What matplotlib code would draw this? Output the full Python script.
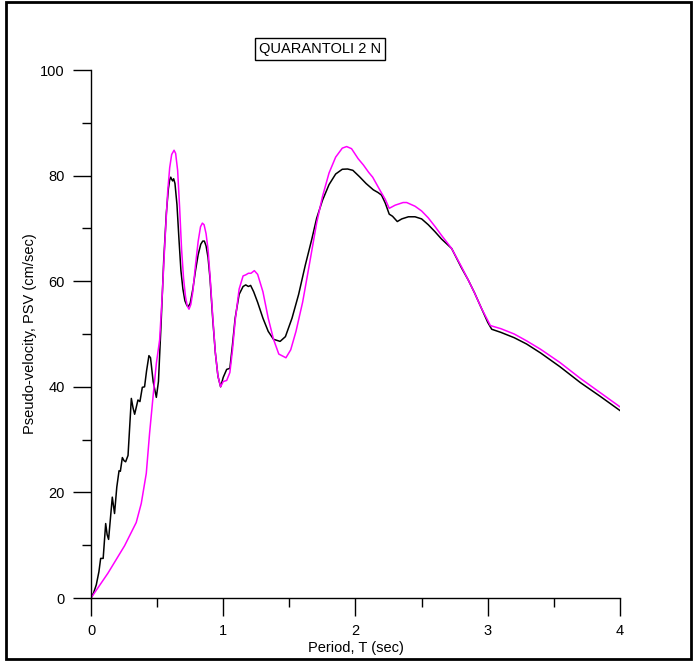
import matplotlib
matplotlib.use("Agg")
import matplotlib.pyplot as plt
from matplotlib.patches import Rectangle
from matplotlib.ticker import MultipleLocator

plt.rcParams['font.family'] = ['Liberation Sans', 'DejaVu Sans']

title_text = "QUARANTOLI 2 N"
x_label = "Period, T (sec)"
y_label = "Pseudo-velocity, PSV (cm/sec)"

# Black series (period, PSV)
black_T = [0.0, 0.02, 0.04, 0.06, 0.073, 0.092, 0.111, 0.122, 0.133, 0.161, 0.178, 0.195,
           0.212, 0.222, 0.237, 0.25, 0.262, 0.28, 0.305, 0.318, 0.33, 0.355, 0.37, 0.388,
           0.405, 0.42, 0.438, 0.45, 0.47, 0.494, 0.51, 0.53, 0.55, 0.57, 0.585, 0.595,
           0.603, 0.61, 0.617, 0.625, 0.635, 0.65, 0.665, 0.68, 0.695, 0.71, 0.725,
           0.736, 0.75, 0.77, 0.79, 0.81, 0.83, 0.845, 0.857, 0.87, 0.885,
           0.90, 0.92, 0.94, 0.96, 0.98, 1.0, 1.026, 1.05, 1.07, 1.09, 1.12, 1.15, 1.17,
           1.19, 1.207, 1.23, 1.26, 1.30, 1.34, 1.38, 1.43, 1.47, 1.52, 1.57, 1.62, 1.67,
           1.706, 1.75, 1.80, 1.85, 1.90, 1.94, 1.98, 2.03, 2.08, 2.135, 2.17, 2.197,
           2.225, 2.255, 2.28, 2.316, 2.35, 2.40, 2.45, 2.50, 2.55, 2.60, 2.65, 2.727,
           2.80, 2.853, 2.90, 2.95, 3.0, 3.03, 3.10, 3.20, 3.294, 3.40, 3.546, 3.70,
           3.85, 4.0]
black_psv = [0, 1.0, 2.5, 5.0, 7.5, 7.5, 14.1, 12.0, 11.1, 19.1, 16.0, 21.0,
             24.1, 24.0, 26.6, 26.0, 25.8, 27.0, 37.8, 36.0, 34.8, 37.5, 37.2, 39.9,
             40.0, 43.0, 45.9, 45.5, 41.0, 38.0, 41.0, 52.0, 64.0, 73.0, 77.5, 79.2,
             79.7, 79.3, 79.0, 79.4, 78.5, 74.5, 68.0, 62.0, 58.5, 56.3, 55.4,
             55.2, 55.8, 58.5, 62.0, 65.0, 67.0, 67.6, 67.6, 66.7, 64.5,
             60.5, 53.0, 46.5, 42.0, 40.0, 41.8, 43.3, 43.5, 48.0, 53.0, 57.5, 59.0, 59.3,
             59.0, 59.2, 58.0, 56.0, 53.0, 50.5, 49.0, 48.6, 49.5, 53.0, 57.5, 63.0, 68.0,
             71.9, 75.3, 78.3, 80.3, 81.2, 81.25, 81.0, 79.8, 78.5, 77.3, 76.8, 76.3,
             74.8, 72.7, 72.3, 71.3, 71.8, 72.2, 72.2, 71.8, 70.7, 69.4, 68.0, 66.2,
             62.6, 60.2, 57.8, 55.0, 52.2, 50.9, 50.3, 49.3, 48.1, 46.4, 43.8, 40.8,
             38.2, 35.5]

# Magenta series (period, PSV)
magenta_T = [0.0, 0.128, 0.254, 0.342, 0.38, 0.418, 0.443, 0.469, 0.494, 0.519, 0.54,
             0.56, 0.58, 0.595, 0.61, 0.628, 0.64, 0.655, 0.67, 0.685, 0.70, 0.715,
             0.728, 0.741, 0.755, 0.77, 0.79, 0.81, 0.828, 0.842, 0.855, 0.87, 0.885,
             0.90, 0.92, 0.94, 0.96, 0.98, 1.0, 1.026, 1.05,
             1.07, 1.09, 1.12, 1.15, 1.17, 1.19, 1.21, 1.235, 1.26, 1.30, 1.34, 1.38,
             1.42, 1.474, 1.51, 1.55, 1.60, 1.65, 1.706, 1.75, 1.80, 1.85, 1.90, 1.933,
             1.97, 2.02, 2.06, 2.10, 2.13, 2.19, 2.225, 2.255, 2.30, 2.36, 2.387, 2.45,
             2.50, 2.55, 2.60, 2.65, 2.727, 2.80, 2.853, 2.90, 2.95, 3.02, 3.10, 3.20,
             3.294, 3.40, 3.546, 3.70, 3.85, 4.0]
magenta_psv = [0, 4.7, 9.9, 14.3, 17.9, 23.6, 31.2, 38.1, 44.4, 48.9, 58.0,
               68.0, 77.0, 81.5, 84.0, 84.8, 84.2, 81.0, 74.0, 66.0, 60.5, 57.0,
               55.3, 54.7, 55.6, 58.0, 63.0, 67.5, 70.3, 71.0, 70.7, 69.0, 66.0,
               61.0, 53.5, 46.5, 42.0, 40.0, 41.0, 41.2, 42.7,
               47.0, 52.5, 58.5, 61.0, 61.2, 61.5, 61.5, 62.0, 61.3, 58.0, 53.0, 49.0,
               46.2, 45.5, 47.0, 50.5, 56.0, 63.0, 71.0, 76.0, 80.5, 83.5, 85.2, 85.5,
               85.1, 83.2, 82.0, 80.6, 79.7, 77.0, 75.5, 73.8, 74.4, 74.9, 74.9, 74.2,
               73.3, 72.0, 70.4, 68.7, 66.2, 62.8, 60.2, 57.8, 55.0, 51.6, 51.0, 50.0,
               48.7, 47.1, 44.6, 41.6, 38.9, 36.2]

W, H = 697, 662
fig = plt.figure(figsize=(W / 100, H / 100), dpi=100)
ax = fig.add_axes([91 / W, 1 - 598 / H, (620 - 91) / W, (598 - 70) / H])

ax.plot(black_T, black_psv, color='black', lw=1.1)
ax.plot(magenta_T, magenta_psv, color='#FF00FF', lw=1.1)

ax.set_xlim(0, 4)
ax.set_ylim(0, 100)
ax.spines['top'].set_visible(False)
ax.spines['right'].set_visible(False)
for s in ('left', 'bottom'):
    ax.spines[s].set_linewidth(1.0)

ax.xaxis.set_major_locator(MultipleLocator(1))
ax.xaxis.set_minor_locator(MultipleLocator(0.5))
ax.yaxis.set_major_locator(MultipleLocator(20))
ax.yaxis.set_minor_locator(MultipleLocator(10))
ax.tick_params(which='major', direction='out', length=13, width=1.0, labelsize=10.5, pad=6)
ax.tick_params(which='minor', direction='out', length=6.5, width=1.0)

ax.set_xlabel(x_label, fontsize=10.5, labelpad=2)
ax.set_ylabel(y_label, fontsize=10.5, labelpad=2)

fig.text(320 / W, 1 - 49 / H, title_text, ha='center', va='center', fontsize=10.5,
         bbox=dict(boxstyle='square,pad=0.3', fc='white', ec='black', lw=1.0))

fig.patches.append(Rectangle((6 / W, 1 - 659 / H), (691 - 6) / W, (659 - 2) / H,
                             transform=fig.transFigure, fill=False, ec='black', lw=2))

fig.savefig('out.png', dpi=100)
